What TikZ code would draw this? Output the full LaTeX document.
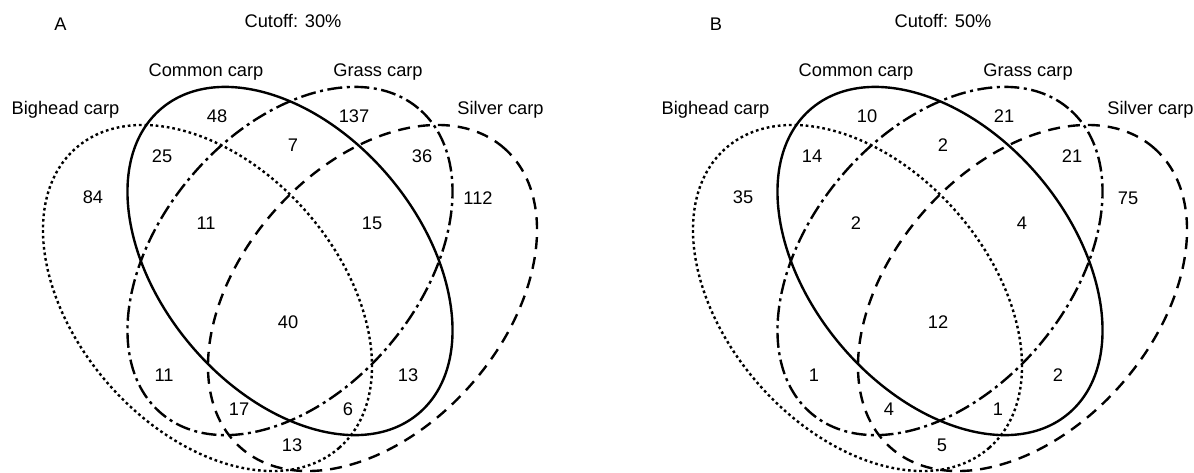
\documentclass[tikz,border=0pt]{standalone}
\usepackage{fontspec}
\setmainfont{Liberation Sans}
\begin{document}
\begin{tikzpicture}[x=0.75pt,y=-0.75pt,
  lbl/.style={inner sep=0pt, font=\fontsize{13.7}{16}\selectfont},
  name lbl/.style={lbl, anchor=base},
  venn/.style={line width=1.8pt},
  bighead/.style={venn, dash pattern=on 2pt off 2.2pt},
  common/.style={venn},
  grass/.style={venn, dash pattern=on 11.25pt off 3.4pt on 2.25pt off 3.4pt},
  silver/.style={venn, dash pattern=on 9pt off 6pt}]
\useasboundingbox (0,0) rectangle (1194,472);

% ---------- Panel A: cutoff 30% ----------
\begin{scope}
  \draw[bighead] (207.5,298) ellipse [x radius=149.6pt, y radius=98.4pt, rotate=-48.65];
  \draw[common]  (290,261)   ellipse [x radius=149.6pt, y radius=97.6pt, rotate=-49.9];
  \draw[grass]   (290,261)   ellipse [x radius=149.6pt, y radius=97.6pt, rotate=49.9];
  \draw[silver]  (372.5,298) ellipse [x radius=149.6pt, y radius=98.4pt, rotate=48.65];

  \node[name lbl] (a-tag)    at (60.5,30)  {A};
  \node[name lbl] (a-cutoff) at (293,27.5) {Cutoff: 30\%};
  \node[name lbl] (a-common) at (206,76)   {Common carp};
  \node[name lbl] (a-grass)  at (378,76)   {Grass carp};
  \node[name lbl] (a-big)    at (65.5,114.5) {Bighead carp};
  \node[name lbl] (a-silver) at (500.5,114.5) {Silver carp};

  \node[lbl] (a-n1)  at (217,116) {48};
  \node[lbl] (a-n2)  at (354,116) {137};
  \node[lbl] (a-n3)  at (293,145) {7};
  \node[lbl] (a-n4)  at (162,156) {25};
  \node[lbl] (a-n5)  at (422,156) {36};
  \node[lbl] (a-n6)  at (93,197)  {84};
  \node[lbl] (a-n7)  at (478,198) {112};
  \node[lbl] (a-n8)  at (206,223) {11};
  \node[lbl] (a-n9)  at (372,223) {15};
  \node[lbl] (a-n10) at (288,322) {40};
  \node[lbl] (a-n11) at (164,375) {11};
  \node[lbl] (a-n12) at (408,375) {13};
  \node[lbl] (a-n13) at (239,409) {17};
  \node[lbl] (a-n14) at (348,409) {6};
  \node[lbl] (a-n15) at (292,445) {13};
\end{scope}

% ---------- Panel B: cutoff 50% ----------
\begin{scope}[xshift=487.5pt]
  \draw[bighead] (207.5,298) ellipse [x radius=149.6pt, y radius=98.4pt, rotate=-48.65];
  \draw[common]  (290,261)   ellipse [x radius=149.6pt, y radius=97.6pt, rotate=-49.9];
  \draw[grass]   (290,261)   ellipse [x radius=149.6pt, y radius=97.6pt, rotate=49.9];
  \draw[silver]  (372.5,298) ellipse [x radius=149.6pt, y radius=98.4pt, rotate=48.65];

  \node[name lbl] (b-tag)    at (66,30)   {B};
  \node[name lbl] (b-cutoff) at (293,27.5) {Cutoff: 50\%};
  \node[name lbl] (b-common) at (206,76)   {Common carp};
  \node[name lbl] (b-grass)  at (378,76)   {Grass carp};
  \node[name lbl] (b-big)    at (65.5,114.5) {Bighead carp};
  \node[name lbl] (b-silver) at (500.5,114.5) {Silver carp};

  \node[lbl] (b-n1)  at (217,116) {10};
  \node[lbl] (b-n2)  at (354,116) {21};
  \node[lbl] (b-n3)  at (293,145) {2};
  \node[lbl] (b-n4)  at (162,156) {14};
  \node[lbl] (b-n5)  at (422,156) {21};
  \node[lbl] (b-n6)  at (93,197)  {35};
  \node[lbl] (b-n7)  at (478,198) {75};
  \node[lbl] (b-n8)  at (206,223) {2};
  \node[lbl] (b-n9)  at (372,223) {4};
  \node[lbl] (b-n10) at (288,322) {12};
  \node[lbl] (b-n11) at (164,375) {1};
  \node[lbl] (b-n12) at (408,375) {2};
  \node[lbl] (b-n13) at (239,409) {4};
  \node[lbl] (b-n14) at (348,409) {1};
  \node[lbl] (b-n15) at (292,445) {5};
\end{scope}
\end{tikzpicture}
\end{document}
